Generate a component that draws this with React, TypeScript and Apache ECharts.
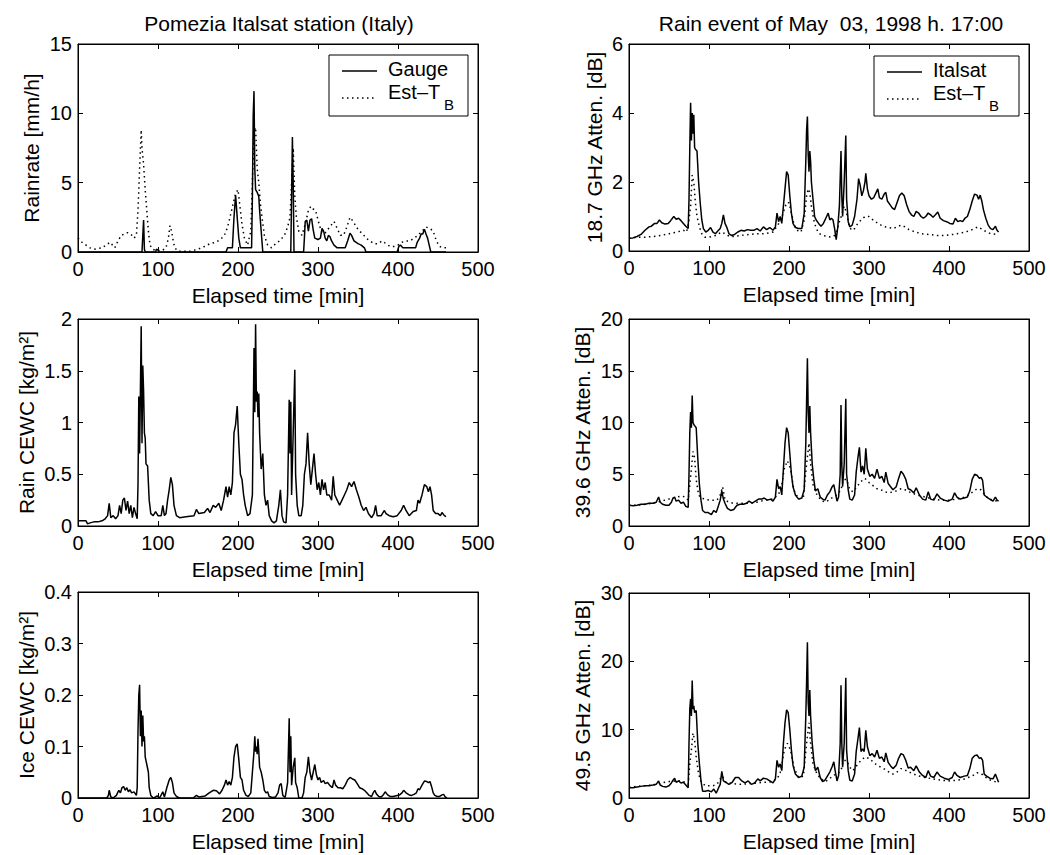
import React, { useEffect, useRef } from "react";
import * as echarts from "echarts";

// ---------------- DATA (time [min], value) ----------------
const xTickValues = [0, 100, 200, 300, 400, 500];

const rainGauge: number[][] = [
  [0,0],[80,0],[81,1.2],[82,2.3],[83,0.2],[84,0],[97,0],[98,0.2],[100,0.15],[101,0],[185,0],[187,0.3],[193,0.3],[195,2.5],[197,4.1],[199,2.5],[201,1],[203,0.3],[217,0.3],[218,4],[219,9.8],[220,11.6],[221,6],[222,4.5],[224,4.3],[226,4.0],[227,3],[229,1.5],[231,0],[266,0],[267,4],[268,8.3],[269,5],[270,0],[282,0],[283,1.0],[284,2.2],[286,2.3],[288,1.5],[290,2.3],[292,2.4],[294,1.6],[296,1.0],[300,0.9],[303,1.0],[305,1.7],[307,1.5],[309,1.0],[311,0.8],[313,1.2],[315,1.1],[317,0.8],[320,0.5],[324,0.3],[334,0.3],[337,0.8],[340,1.35],[342,1.2],[345,0.8],[350,0.6],[354,0.5],[358,0.3],[360,0],[399,0],[401,0.4],[403,0.5],[406,0.3],[422,0.3],[424,0.7],[427,1.0],[429,1.3],[431,1.3],[433,1.65],[435,1.3],[437,1.0],[439,0.5],[441,0],[460,0]
];
const rainEstTb: number[][] = [
  [0,1.0],[5,0.7],[10,0.5],[15,0.3],[20,0.2],[25,0.25],[30,0.3],[35,0.5],[40,0.7],[43,0.5],[46,0.3],[50,0.8],[54,1.2],[58,1.3],[62,1.4],[66,1.3],[70,1.0],[73,1.2],[75,3],[77,6],[79,8.8],[80,7.5],[82,6.3],[84,4.5],[86,3],[88,1.5],[90,0.5],[93,0.2],[98,0.1],[105,0.1],[110,0.3],[113,1.0],[115,1.9],[117,1.5],[119,0.8],[121,0.3],[125,0.05],[140,0.05],[150,0.2],[158,0.4],[165,0.6],[172,0.7],[178,0.9],[183,1.2],[187,1.8],[190,2.5],[194,3.5],[197,4.2],[200,4.5],[202,3.5],[205,2],[208,1.0],[212,0.5],[216,1.5],[218,5],[220,8.7],[222,9],[224,6],[226,5],[228,3.5],[230,2.5],[233,1.2],[237,0.5],[242,0.3],[247,0.6],[252,0.8],[258,1.2],[262,1.8],[265,2.5],[267,5],[269,7.5],[271,4],[273,2.5],[276,1.5],[280,1.2],[284,2.0],[288,3.0],[291,3.3],[294,3.1],[297,3.0],[300,2.3],[304,1.5],[308,1.3],[312,1.6],[316,1.9],[320,2.2],[324,1.7],[328,1.2],[332,1.2],[336,1.8],[340,2.5],[344,2.2],[348,1.8],[352,1.5],[356,1.3],[360,1.0],[365,0.8],[370,0.6],[375,0.6],[380,0.8],[385,0.6],[390,0.4],[395,0.4],[400,0.5],[405,0.7],[410,0.8],[415,0.8],[420,1.0],[425,1.2],[430,1.5],[435,1.8],[440,1.7],[444,1.5],[448,0.8],[452,0.4],[456,0.3],[460,0.3]
];
const att187Italsat: number[][] = [
  [0,0.37],[5,0.38],[10,0.42],[15,0.48],[20,0.6],[25,0.7],[28,0.72],[32,0.8],[35,0.8],[38,0.9],[41,0.82],[45,0.78],[49,0.8],[52,0.88],[56,1.0],[59,0.92],[62,0.95],[65,0.88],[68,0.8],[71,0.72],[74,0.65],[75,1.5],[76,3.0],[77,4.3],[78,3.2],[79,4.0],[80,3.4],[81,3.95],[82,3.0],[83,2.95],[85,2.9],[87,2.0],[89,1.4],[91,0.9],[93,0.65],[96,0.55],[99,0.6],[102,0.68],[105,0.55],[108,0.5],[111,0.58],[114,0.65],[116,0.8],[118,1.05],[120,0.8],[122,0.7],[125,0.5],[128,0.45],[132,0.48],[136,0.55],[140,0.6],[144,0.58],[148,0.62],[152,0.6],[156,0.6],[160,0.65],[164,0.58],[168,0.7],[172,0.62],[176,0.68],[180,0.6],[183,0.7],[185,1.1],[187,0.85],[189,1.0],[191,0.8],[193,1.3],[195,1.8],[197,2.3],[199,2.2],[201,1.6],[203,1.1],[205,0.8],[208,0.68],[212,0.65],[216,0.65],[219,1.1],[221,2.6],[222,3.5],[223,3.9],[224,2.8],[225,2.3],[226,2.9],[227,2.6],[228,2.0],[230,1.5],[232,1.0],[234,0.9],[237,0.8],[240,0.72],[243,0.8],[246,0.95],[249,1.1],[251,0.9],[253,0.95],[255,0.9],[257,0.65],[259,0.33],[261,0.7],[263,1.3],[265,2.9],[266,1.6],[267,1.0],[269,2.0],[271,3.35],[272,1.5],[274,0.85],[276,0.7],[279,0.75],[282,1.0],[285,1.5],[287,2.1],[289,1.9],[291,1.6],[293,1.75],[295,2.0],[296,2.25],[298,1.8],[300,1.6],[303,1.5],[306,1.55],[309,1.7],[311,1.8],[313,1.55],[316,1.5],[319,1.65],[321,1.7],[323,1.45],[326,1.35],[329,1.25],[332,1.2],[335,1.4],[338,1.6],[341,1.68],[344,1.6],[347,1.35],[350,1.15],[353,1.05],[356,1.0],[359,1.15],[362,1.1],[365,1.0],[368,0.95],[371,1.0],[374,1.1],[377,1.05],[380,0.98],[383,1.05],[386,1.13],[389,0.95],[393,0.88],[397,0.85],[401,0.8],[405,0.78],[408,0.95],[411,0.85],[414,0.88],[417,0.85],[420,0.95],[423,1.0],[426,1.2],[429,1.45],[432,1.65],[435,1.62],[437,1.5],[439,1.62],[441,1.45],[443,1.2],[446,0.95],[449,0.75],[452,0.65],[455,0.62],[458,0.72],[460,0.6],[462,0.55]
];
const att187EstTb: number[][] = [
  [0,0.37],[10,0.4],[20,0.4],[30,0.42],[40,0.45],[50,0.5],[60,0.55],[68,0.6],[72,0.55],[75,0.9],[77,1.3],[79,2.2],[81,2.0],[83,1.4],[85,1.0],[88,0.7],[91,0.5],[95,0.4],[100,0.4],[108,0.45],[116,0.55],[120,0.5],[126,0.42],[132,0.42],[140,0.45],[150,0.48],[160,0.5],[170,0.5],[180,0.55],[186,0.75],[190,0.9],[194,1.2],[197,1.4],[200,1.4],[203,1.1],[206,0.8],[210,0.6],[215,0.55],[219,0.9],[222,1.6],[224,1.8],[226,1.7],[228,1.3],[231,0.9],[234,0.65],[238,0.5],[243,0.45],[248,0.42],[253,0.4],[257,0.45],[260,0.6],[263,0.85],[266,1.05],[269,1.3],[272,1.1],[275,0.75],[278,0.6],[282,0.65],[286,0.8],[290,0.9],[295,1.0],[300,1.0],[305,0.9],[310,0.82],[315,0.75],[320,0.7],[325,0.68],[330,0.65],[335,0.7],[340,0.75],[345,0.7],[350,0.62],[358,0.55],[366,0.5],[375,0.48],[385,0.45],[395,0.45],[405,0.48],[415,0.52],[425,0.58],[432,0.65],[436,0.7],[440,0.65],[445,0.58],[452,0.5],[460,0.48]
];
const rainCewc: number[][] = [
  [0,0.05],[10,0.05],[12,0.02],[15,0.03],[20,0.04],[25,0.04],[30,0.05],[34,0.07],[37,0.1],[39,0.22],[41,0.08],[44,0.1],[47,0.07],[50,0.1],[52,0.2],[54,0.12],[56,0.25],[58,0.27],[60,0.15],[62,0.24],[64,0.12],[66,0.2],[68,0.08],[70,0.18],[72,0.12],[74,0.07],[75,0.4],[76,1.25],[77,0.7],[78,1.3],[79,1.93],[80,0.8],[81,1.55],[82,1.3],[83,0.9],[84,0.85],[85,0.6],[87,0.58],[89,0.25],[91,0.12],[94,0.1],[97,0.14],[100,0.1],[104,0.1],[106,0.2],[108,0.1],[110,0.12],[112,0.25],[114,0.35],[116,0.47],[118,0.4],[120,0.2],[123,0.1],[127,0.08],[135,0.09],[145,0.1],[148,0.16],[151,0.12],[158,0.13],[162,0.17],[165,0.13],[169,0.2],[172,0.18],[176,0.22],[179,0.15],[182,0.25],[185,0.38],[187,0.28],[189,0.38],[191,0.3],[193,0.42],[195,0.9],[197,0.98],[199,1.16],[201,0.8],[203,0.5],[205,0.45],[207,0.3],[209,0.2],[212,0.1],[215,0.12],[218,0.3],[220,1.72],[221,1.1],[222,1.95],[223,1.2],[224,1.3],[225,1.05],[226,1.28],[227,0.9],[229,0.55],[231,0.7],[233,0.3],[235,0.2],[237,0.25],[239,0.1],[242,0.05],[245,0.03],[248,0.05],[251,0.2],[253,0.35],[255,0.1],[257,0.04],[260,0.03],[262,0.3],[264,1.22],[265,0.7],[266,1.2],[267,0.3],[269,0.9],[271,1.51],[272,0.5],[274,0.2],[276,0.1],[279,0.1],[281,0.2],[283,0.5],[285,0.6],[287,0.9],[289,0.6],[291,0.4],[293,0.55],[295,0.7],[297,0.5],[299,0.35],[301,0.42],[303,0.3],[305,0.45],[307,0.35],[309,0.42],[311,0.3],[314,0.3],[317,0.25],[319,0.48],[321,0.3],[324,0.25],[327,0.2],[330,0.25],[333,0.3],[336,0.35],[339,0.42],[342,0.38],[345,0.43],[348,0.35],[351,0.28],[354,0.2],[357,0.15],[360,0.18],[363,0.12],[367,0.08],[370,0.12],[372,0.2],[374,0.1],[379,0.1],[383,0.15],[385,0.12],[389,0.1],[394,0.09],[399,0.1],[404,0.15],[407,0.2],[410,0.15],[414,0.1],[419,0.14],[423,0.15],[425,0.25],[427,0.22],[430,0.3],[433,0.4],[436,0.38],[438,0.33],[440,0.38],[442,0.3],[444,0.15],[447,0.12],[450,0.12],[453,0.1],[455,0.13],[458,0.1],[460,0.09]
];
const att396Italsat: number[][] = [
  [0,2.0],[5,1.95],[10,2.0],[15,2.1],[20,2.1],[25,2.2],[30,2.2],[34,2.3],[37,2.8],[39,2.3],[42,2.1],[46,2.0],[50,2.0],[53,2.3],[55,2.7],[57,2.8],[59,2.4],[62,2.5],[65,2.2],[68,2.3],[71,1.9],[74,1.8],[75,5],[76,9],[77,11],[78,9.5],[79,12.6],[80,10],[81,9.8],[82,9.7],[84,9.5],[86,6.5],[88,4],[90,2.5],[92,1.5],[95,1.3],[99,1.3],[103,1.1],[106,1.5],[109,1.3],[112,2.0],[114,2.5],[116,3.4],[118,2.6],[120,2.2],[123,1.7],[127,1.5],[131,1.6],[135,2.0],[139,2.1],[143,2.1],[147,2.2],[150,2.4],[154,2.2],[158,2.4],[162,2.6],[166,2.6],[169,2.7],[173,2.5],[177,2.6],[180,2.4],[183,2.8],[185,4.5],[187,3.6],[189,3.8],[191,3.0],[193,5.5],[195,8.0],[197,9.5],[199,9.0],[201,7.0],[203,5.0],[205,3.8],[208,3.0],[212,2.6],[216,2.7],[219,3.5],[221,8],[222,12],[223,16.2],[224,11],[225,9],[226,11.6],[227,9],[229,6],[231,4.5],[233,3.4],[236,3.6],[239,2.8],[242,2.6],[245,2.5],[248,3.0],[251,3.3],[254,3.8],[256,4.0],[258,3.2],[260,2.4],[262,2.8],[264,5],[265,11.7],[266,6],[267,3.8],[269,6],[271,12.3],[272,5],[274,3.5],[276,2.6],[279,2.5],[282,3.0],[284,5.2],[286,6.5],[288,7.6],[290,5.2],[292,5.8],[294,5.0],[296,7.5],[298,5.5],[301,4.8],[304,5.0],[307,4.6],[310,5.5],[313,4.6],[316,4.8],[319,4.2],[321,5.2],[324,4.1],[327,3.8],[330,3.5],[334,3.8],[337,4.6],[340,5.3],[343,5.0],[346,4.5],[349,3.6],[352,3.5],[356,3.2],[359,3.7],[363,3.0],[367,2.6],[371,2.5],[374,3.3],[377,2.6],[381,2.5],[385,3.1],[389,2.7],[394,2.5],[399,2.4],[404,2.6],[407,3.2],[410,2.8],[414,2.6],[419,2.7],[423,2.8],[426,3.4],[429,4.5],[432,5.0],[435,4.9],[438,4.6],[440,4.7],[442,4.4],[444,3.0],[447,2.8],[451,2.6],[455,2.4],[458,2.8],[460,2.5],[462,2.4]
];
const att396EstTb: number[][] = [
  [0,2.0],[10,2.0],[20,2.1],[30,2.2],[40,2.4],[50,2.6],[60,2.8],[66,2.9],[70,2.8],[74,2.5],[76,4],[78,5.5],[80,7.2],[82,6.6],[84,4.5],[87,3.0],[90,2.7],[95,2.6],[100,2.5],[105,2.5],[110,2.5],[114,3.0],[117,3.8],[120,2.5],[125,2.3],[130,2.2],[140,2.2],[150,2.2],[160,2.3],[170,2.5],[180,2.6],[186,3.0],[190,3.5],[194,5.5],[198,6.3],[202,5.5],[206,3.5],[212,2.6],[218,2.8],[222,6],[225,8],[227,6],[230,4],[235,3.0],[240,2.5],[245,2.3],[250,2.5],[255,2.8],[260,3.0],[265,3.5],[268,4.5],[272,4.5],[276,3.5],[280,3.3],[285,3.8],[290,4.3],[295,4.6],[300,4.2],[305,3.9],[310,3.6],[315,3.5],[320,3.3],[325,3.2],[330,3.3],[335,3.4],[340,3.6],[345,3.5],[350,3.3],[360,3.0],[370,2.8],[380,2.6],[390,2.5],[400,2.5],[410,2.6],[420,2.8],[430,3.3],[435,3.6],[440,3.5],[445,3.0],[450,2.6],[460,2.4]
];
const iceCewc: number[][] = [
  [0,0],[36,0],[38,0.005],[39,0.015],[41,0.002],[44,0.0],[48,0.005],[51,0.015],[53,0.01],[55,0.02],[57,0.022],[59,0.015],[61,0.02],[63,0.012],[65,0.016],[67,0.01],[70,0.012],[73,0.005],[74,0.02],[75,0.13],[76,0.2],[77,0.22],[78,0.12],[79,0.17],[80,0.1],[81,0.16],[82,0.11],[83,0.12],[84,0.08],[86,0.065],[88,0.05],[89,0.02],[91,0.005],[94,0.0],[97,0.002],[99,0.004],[102,0],[106,0.012],[108,0.002],[111,0.02],[114,0.035],[116,0.04],[118,0.03],[120,0.01],[123,0.003],[127,0],[144,0],[148,0.005],[151,0.002],[159,0.004],[164,0.01],[169,0.015],[173,0.014],[177,0.008],[180,0.015],[183,0.025],[185,0.035],[187,0.025],[189,0.032],[191,0.025],[193,0.04],[195,0.08],[197,0.1],[199,0.105],[201,0.075],[203,0.04],[205,0.035],[207,0.015],[210,0.005],[213,0.003],[216,0.01],[218,0.05],[220,0.09],[221,0.12],[222,0.09],[223,0.1],[224,0.085],[225,0.115],[226,0.09],[227,0.06],[229,0.05],[231,0.035],[233,0.015],[235,0.01],[237,0.012],[239,0.003],[243,0.001],[247,0.002],[250,0.01],[252,0.025],[254,0.028],[256,0.005],[259,0.001],[262,0.03],[264,0.155],[265,0.05],[266,0.12],[267,0.025],[269,0.06],[271,0.078],[272,0.03],[274,0.02],[276,0.0],[280,0],[282,0.01],[284,0.04],[286,0.05],[288,0.08],[290,0.05],[292,0.035],[294,0.05],[296,0.065],[298,0.045],[300,0.035],[302,0.04],[304,0.03],[307,0.034],[309,0.028],[312,0.03],[315,0.024],[318,0.02],[320,0.035],[322,0.025],[325,0.02],[328,0.02],[331,0.018],[334,0.025],[337,0.035],[340,0.04],[343,0.037],[346,0.035],[349,0.028],[352,0.02],[355,0.018],[358,0.015],[361,0.01],[364,0.005],[367,0.003],[369,0.01],[371,0.015],[373,0.008],[376,0.003],[379,0.002],[382,0.007],[384,0.012],[387,0.006],[390,0.003],[394,0.003],[399,0.005],[402,0.006],[405,0.01],[407,0.015],[410,0.01],[414,0.006],[417,0.005],[420,0.007],[423,0.01],[425,0.018],[427,0.016],[430,0.025],[433,0.033],[436,0.032],[438,0.03],[440,0.032],[442,0.022],[444,0.01],[446,0.005],[449,0.003],[452,0.003],[455,0.006],[457,0.007],[459,0.002],[461,0]
];
const att495Italsat: number[][] = [
  [0,1.5],[5,1.5],[10,1.6],[15,1.7],[20,1.8],[25,1.8],[30,1.9],[34,2.0],[37,2.5],[39,1.9],[42,1.7],[46,1.6],[50,1.8],[53,2.2],[55,2.6],[57,2.9],[59,2.3],[62,2.5],[65,2.2],[68,2.3],[71,1.9],[74,1.5],[75,8],[76,13],[77,14.5],[78,12],[79,17.2],[80,13],[81,13.5],[82,12.5],[84,12.8],[86,8],[88,5],[90,2.5],[92,1.0],[95,1.0],[99,1.1],[103,0.9],[106,1.3],[109,0.7],[112,1.5],[114,2.0],[116,3.9],[118,2.5],[121,2.3],[125,2.0],[129,2.3],[133,3.0],[137,3.0],[141,2.5],[145,2.2],[149,2.5],[153,2.0],[157,2.2],[161,2.8],[164,2.5],[168,2.9],[172,2.8],[176,2.5],[180,2.2],[183,2.8],[185,5.5],[187,4.5],[189,5.0],[191,4.0],[193,8.0],[195,11.0],[197,12.9],[199,12.5],[201,10.0],[203,7.0],[205,4.8],[208,3.5],[212,3.0],[216,3.2],[219,4.5],[221,12],[222,17],[223,22.8],[224,14],[225,12],[226,15.8],[227,12],[229,8],[231,5.5],[233,4.0],[236,4.5],[239,3.0],[242,2.4],[245,2.6],[248,3.2],[251,3.8],[254,4.6],[256,5.3],[258,3.8],[260,2.5],[262,3.3],[264,8],[265,16.5],[266,8],[267,4.5],[269,8],[271,17.6],[272,7],[274,4],[276,2.6],[279,2.5],[282,3.5],[284,6.8],[286,8.5],[288,10.3],[290,6.8],[292,7.2],[294,6.8],[296,9.9],[298,7.5],[301,6.2],[304,6.5],[307,6.0],[310,7.0],[313,5.8],[316,6.0],[319,5.3],[321,6.6],[324,5.2],[327,4.7],[330,4.3],[334,4.8],[337,5.8],[340,6.5],[343,6.3],[346,5.5],[349,4.4],[352,4.5],[356,4.0],[359,4.7],[363,3.8],[367,3.3],[371,3.0],[374,4.0],[377,3.2],[381,3.0],[385,3.8],[389,3.2],[394,2.9],[399,2.7],[404,3.0],[407,3.8],[410,3.3],[414,3.0],[419,3.2],[423,3.3],[426,4.3],[429,5.8],[432,6.2],[435,6.3],[438,5.8],[440,5.9],[442,5.5],[444,3.5],[447,3.2],[451,2.9],[455,2.8],[458,3.5],[460,2.9],[462,2.3]
];
const att495EstTb: number[][] = [
  [0,1.6],[10,1.7],[20,1.8],[30,1.9],[40,2.2],[50,2.4],[60,2.5],[66,2.5],[70,2.3],[74,2.0],[76,5],[78,7],[80,9.5],[82,8.5],[84,6],[87,3.5],[90,2.5],[95,1.8],[100,1.8],[105,1.8],[110,2.0],[114,2.8],[117,3.2],[120,2.4],[125,2.2],[130,2.1],[140,2.0],[150,2.1],[160,2.2],[170,2.3],[180,2.4],[186,3.0],[190,4],[194,7],[198,8],[202,7],[206,4.5],[212,3.0],[218,3.2],[222,8],[225,11],[227,8],[230,5],[235,3.5],[240,2.8],[245,2.4],[250,2.7],[255,3.3],[260,3.5],[265,4.0],[268,5.5],[272,5.5],[276,4.5],[280,4.0],[285,4.8],[290,5.5],[295,6.0],[300,5.8],[305,5.3],[310,4.8],[315,4.5],[320,4.2],[325,3.8],[330,3.5],[335,3.8],[340,4.3],[345,4.1],[350,3.8],[360,3.3],[370,3.0],[380,2.8],[390,2.6],[400,2.5],[410,2.6],[420,2.8],[430,3.3],[435,3.7],[440,3.6],[445,3.1],[450,2.7],[460,2.3]
];

const leftTitle = "Pomezia Italsat station (Italy)";
const rightTitle = "Rain event of May  03, 1998 h. 17:00";
const xName = "Elapsed time [min]";

// ---------------- LAYOUT ----------------
const FONT = '"Liberation Sans", Arial, Helvetica, sans-serif';
const DOT = [1.5, 3.5];

type Panel = {
  left: number; top: number; width: number; height: number;
  ymax: number; yint: number; yname: string; nameGap: number;
  series: { data: number[][]; dotted: boolean }[];
};

const panels: Panel[] = [
  { left: 78, top: 44, width: 400, height: 208, ymax: 15, yint: 5, yname: "Rainrate [mm/h]", nameGap: 36,
    series: [{ data: rainGauge, dotted: false }, { data: rainEstTb, dotted: true }] },
  { left: 629, top: 44, width: 400, height: 207, ymax: 6, yint: 2, yname: "18.7 GHz Atten. [dB]", nameGap: 24,
    series: [{ data: att187Italsat, dotted: false }, { data: att187EstTb, dotted: true }] },
  { left: 78, top: 319, width: 400, height: 207, ymax: 2, yint: 0.5, yname: "Rain CEWC [kg/m²]", nameGap: 41,
    series: [{ data: rainCewc, dotted: false }] },
  { left: 629, top: 319, width: 400, height: 207, ymax: 20, yint: 5, yname: "39.6 GHz Atten. [dB]", nameGap: 36,
    series: [{ data: att396Italsat, dotted: false }, { data: att396EstTb, dotted: true }] },
  { left: 78, top: 592, width: 400, height: 206, ymax: 0.4, yint: 0.1, yname: "Ice CEWC [kg/m²]", nameGap: 41,
    series: [{ data: iceCewc, dotted: false }] },
  { left: 629, top: 593, width: 400, height: 205, ymax: 30, yint: 10, yname: "49.5 GHz Atten. [dB]", nameGap: 36,
    series: [{ data: att495Italsat, dotted: false }, { data: att495EstTb, dotted: true }] },
];

function legend(x: number, y: number, w: number, h: number, label1: string) {
  return {
    type: "group",
    children: [
      { type: "rect", shape: { x, y, width: w, height: h }, style: { fill: "#fff", stroke: "#000", lineWidth: 1 } },
      { type: "line", shape: { x1: x + 13, y1: y + 16, x2: x + 48, y2: y + 16 }, style: { stroke: "#000", lineWidth: 1.5 } },
      { type: "text", x: x + 59, y: y + 14, style: { text: label1, font: `20px ${FONT}`, fill: "#000", verticalAlign: "middle", align: "left" } },
      { type: "line", shape: { x1: x + 13, y1: y + 43, x2: x + 48, y2: y + 43 }, style: { stroke: "#000", lineWidth: 1.5, lineDash: DOT } },
      { type: "text", x: x + 59, y: y + 37, style: { text: "Est–T", font: `20px ${FONT}`, fill: "#000", verticalAlign: "middle", align: "left" } },
      { type: "text", x: x + 115, y: y + 49, style: { text: "B", font: `15px ${FONT}`, fill: "#000", verticalAlign: "middle", align: "left" } },
    ],
  };
}

export default function App() {
  const ref = useRef<HTMLDivElement>(null);
  useEffect(() => {
    if (!ref.current) return;
    const chart = echarts.init(ref.current, undefined, { renderer: "svg" });
    const grid: any[] = [];
    const xAxis: any[] = [];
    const yAxis: any[] = [];
    const series: any[] = [];
    const black = { color: "#000", width: 1 };
    panels.forEach((p, i) => {
      grid.push({ left: p.left, top: p.top, width: p.width, height: p.height, show: true, borderColor: "#000", borderWidth: 1, backgroundColor: "#fff" });
      const xBase = { type: "value", gridIndex: i, min: xTickValues[0], max: xTickValues[xTickValues.length - 1], interval: 100,
        splitLine: { show: false }, axisLine: { show: true, onZero: false, lineStyle: black },
        axisTick: { show: true, inside: true, length: 5, lineStyle: black } };
      xAxis.push({ ...xBase, position: "bottom", name: xName, nameLocation: "middle", nameGap: 33,
        nameTextStyle: { fontSize: 21, color: "#000", fontFamily: FONT },
        axisLabel: { fontSize: 20, color: "#000", fontFamily: FONT, margin: 7 } });
      xAxis.push({ ...xBase, position: "top", axisLabel: { show: false } });
      const yBase = { type: "value", gridIndex: i, min: 0, max: p.ymax, interval: p.yint,
        splitLine: { show: false }, axisLine: { show: true, onZero: false, lineStyle: black },
        axisTick: { show: true, inside: true, length: 5, lineStyle: black } };
      yAxis.push({ ...yBase, position: "left", name: p.yname, nameLocation: "middle", nameGap: p.nameGap,
        nameTextStyle: { fontSize: 21, color: "#000", fontFamily: FONT },
        axisLabel: { fontSize: 20, color: "#000", fontFamily: FONT, margin: 6 } });
      yAxis.push({ ...yBase, position: "right", axisLabel: { show: false } });
      p.series.forEach((s) => {
        series.push({
          type: "line", xAxisIndex: 2 * i, yAxisIndex: 2 * i, data: s.data, showSymbol: false, symbol: "none",
          silent: true, z: s.dotted ? 3 : 2,
          lineStyle: { color: "#000", width: 1.5, type: s.dotted ? DOT : "solid" },
        });
      });
    });
    chart.setOption({
      animation: false,
      backgroundColor: "#fff",
      textStyle: { fontFamily: FONT },
      grid, xAxis, yAxis, series,
      graphic: [
        { type: "text", x: 279, y: 23, style: { text: leftTitle, font: `21px ${FONT}`, fill: "#000", align: "center", verticalAlign: "middle" } },
        { type: "text", x: 831, y: 23, style: { text: rightTitle, font: `21px ${FONT}`, fill: "#000", align: "center", verticalAlign: "middle" } },
        legend(329, 55, 139, 61, "Gauge"),
        legend(874, 56, 145, 60, "Italsat"),
      ],
    });
    return () => chart.dispose();
  }, []);
  return <div ref={ref} style={{ position: "absolute", left: 0, top: 0, width: 1050, height: 855 }} />;
}
